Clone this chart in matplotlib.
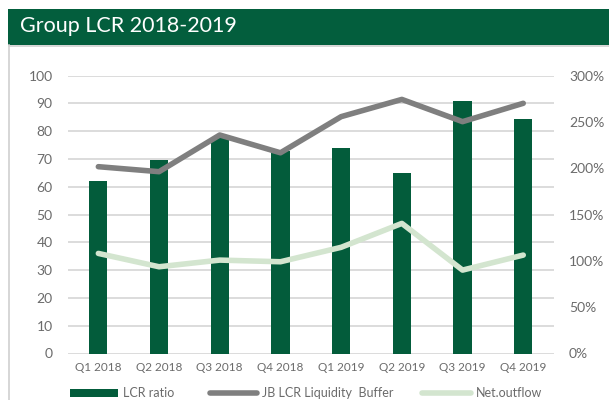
import matplotlib
matplotlib.use("Agg")
import matplotlib.pyplot as plt
from matplotlib.patches import Rectangle
from matplotlib.lines import Line2D
import numpy as np

plt.rcParams['font.family'] = ['Lato', 'DejaVu Sans']

categories = ["Q1 2018", "Q2 2018", "Q3 2018", "Q4 2018",
              "Q1 2019", "Q2 2019", "Q3 2019", "Q4 2019"]
lcr_ratio = [186, 209, 234, 219, 222, 195, 273, 253]          # % (right axis)
liquidity_buffer = [67.2, 65.4, 78.6, 72.2, 85.2, 91.4, 83.4, 90.0]  # left axis
net_outflow = [36.0, 31.2, 33.6, 33.0, 38.2, 46.8, 30.0, 35.4]       # left axis
left_ticks = [0, 10, 20, 30, 40, 50, 60, 70, 80, 90, 100]
right_ticks = [0, 50, 100, 150, 200, 250, 300]
legend_labels = ["LCR ratio", "JB LCR Liquidity  Buffer", "Net.outflow"]

DARK = "#035C3B"
GRAY = "#7F7F7F"
LIGHT = "#D3E5CF"
TXT = "#6b6b6b"
GRID = "#D9D9D9"

fig = plt.figure(figsize=(6.09, 4.00), dpi=100)
W, H = 609, 400

def fx(px):
    return px / W

def fy(py):
    return 1 - py / H

# Title banner
fig.patches.append(Rectangle((fx(8), fy(45)), 1 - fx(8), 36 / H,
                             transform=fig.transFigure, facecolor="#035E3D",
                             edgecolor="none", zorder=0))
fig.text(fx(20), fy(26), "Group LCR 2018-2019", color="white",
         fontsize=15.5, va="center", ha="left", fontweight="normal")
# panel border lines
fig.add_artist(Line2D([fx(8.5), fx(8.5)], [0, fy(45)], transform=fig.transFigure,
                      color="#D0D0D0", lw=1.2))
fig.add_artist(Line2D([fx(8.5), 1], [fy(46), fy(46)], transform=fig.transFigure,
                      color="#D0D0D0", lw=1.2))

ax = fig.add_axes([fx(68), fy(353.5), (553.6 - 68) / W, 278 / H])
ax2 = ax.twinx()

x = np.arange(len(categories))

# Bars on right axis
ax2.bar(x, lcr_ratio, width=0.3, color=DARK, zorder=2)
ax2.set_ylim(0, 300)
ax2.set_yticks(right_ticks)
ax2.set_yticklabels([f"{t}%" for t in right_ticks])

# Lines on left axis (drawn on top)
ax.set_zorder(ax2.get_zorder() + 1)
ax.patch.set_visible(False)
ax.plot(x, liquidity_buffer, color=GRAY, lw=4, solid_capstyle="round", zorder=3)
ax.plot(x, net_outflow, color=LIGHT, lw=4, solid_capstyle="round", zorder=3)
ax.set_ylim(0, 100)
ax.set_yticks(left_ticks)
ax.set_xlim(-0.5, 7.5)
ax.set_xticks(x)
ax.set_xticklabels(categories)

# grid drawn on ax2 (behind bars)
for t in left_ticks:
    ax2.axhline(t * 3, color=GRID, lw=1.3, zorder=1)

for a in (ax, ax2):
    for s in a.spines.values():
        s.set_visible(False)
    a.tick_params(length=0, colors=TXT)
ax.tick_params(axis="x", pad=6, labelsize=8.5)
ax.tick_params(axis="y", pad=11, labelsize=10)
ax2.tick_params(axis="y", pad=11, labelsize=10)

# Legend (manual placement)
ly = fy(393)
fig.patches.append(Rectangle((fx(70), fy(397)), fx(118) - fx(70), 8 / H,
                             transform=fig.transFigure, facecolor=DARK,
                             edgecolor="none"))
fig.add_artist(Line2D([fx(210), fx(257)], [ly, ly], transform=fig.transFigure,
                      color=GRAY, lw=4, solid_capstyle="round"))
fig.add_artist(Line2D([fx(422), fx(471)], [ly, ly], transform=fig.transFigure,
                      color=LIGHT, lw=4, solid_capstyle="round"))
for xpos, lab in zip([123, 262, 476], legend_labels):
    fig.text(fx(xpos), ly, lab, color=TXT, fontsize=9, va="center", ha="left")

fig.savefig("out.png", dpi=100)
